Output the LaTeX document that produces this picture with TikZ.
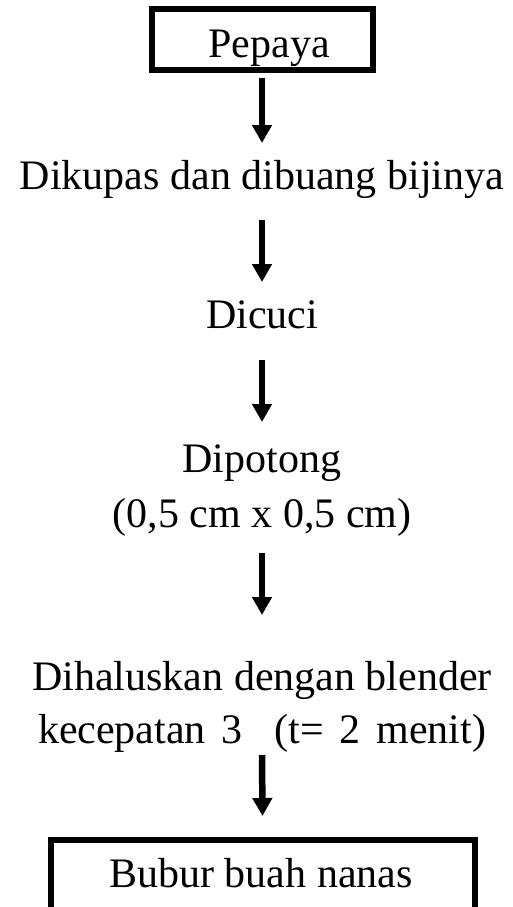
\documentclass[tikz,border=0pt]{standalone}
\usepackage{fontspec}
\setmainfont{Liberation Serif}
\usetikzlibrary{arrows.meta}
\tikzset{
  txt/.style={inner sep=0pt, outer sep=0pt, anchor=base, font=\fontsize{42}{50}\selectfont,
              text height=29pt, text depth=9pt},
  framebox/.style={draw, line width=6pt, inner sep=0pt, outer sep=0pt},
  flow/.style={line width=6.5pt, -{Triangle[length=18pt, width=19pt]}}
}
\begin{document}
\begin{tikzpicture}[x=1pt, y=-1pt]
\useasboundingbox (0,0) rectangle (513,907);
\clip (0,0) rectangle (513,907);

% first frame and its label
\node[framebox, minimum width=221pt, minimum height=61pt] (pepaya) at (262,39.5) {};
\node[txt] (pepayatxt) at (269,58) {Pepaya};

% process steps
\node[txt] (kupas) at (262,189) {Dikupas dan dibuang bijinya};
\node[txt] (cuci) at (262,328) {Dicuci};
\node[txt] (potong) at (262,472) {Dipotong};
\node[txt] (ukuran) at (262,527) {(0,5 cm x 0,5 cm)};
\node[txt] (halus) at (262,690) {Dihaluskan dengan blender};
\node[txt] (kecepatan) at (262,743) {\makebox[448pt][s]{kecepatan 3\ \ (t= 2 menit)}};

% last frame, open at the lower edge of the page
\node[framebox, minimum width=424pt, minimum height=120pt] (bubur) at (262.5,900) {};
\node[txt] (buburtxt) at (261,887) {Bubur buah nanas};

% arrows between the steps
\draw[flow] ([yshift=-8pt]pepaya.south) -- ([yshift=17pt]kupas.north);
\draw[flow] ([yshift=-22pt]kupas.south) -- ([yshift=17pt]cuci.north);
\draw[flow] ([yshift=-23pt]cuci.south) -- ([yshift=21pt]potong.north);
\draw[flow] ([yshift=-17pt]ukuran.south) -- ([yshift=46pt]halus.north);
\draw[flow] ([yshift=-3pt]kecepatan.south) -- ([yshift=24pt]bubur.north);
\end{tikzpicture}
\end{document}
